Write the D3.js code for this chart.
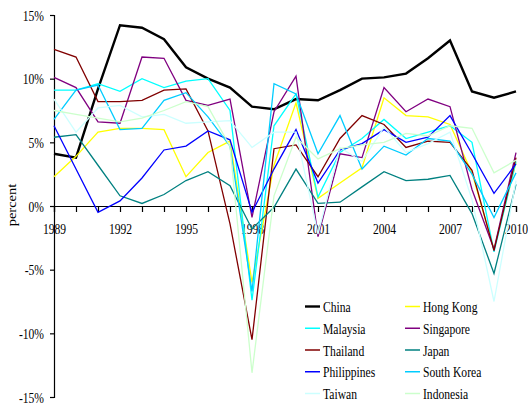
<!DOCTYPE html>
<html>
<head>
<meta charset="utf-8">
<script src="https://cdn.jsdelivr.net/npm/d3@7"></script>
<style>
  html, body { margin: 0; padding: 0; background: #fff; }
  svg { display: block; }
  text { font-family: "Liberation Serif", "Times New Roman", serif; fill: #000; }
</style>
</head>
<body>
<div id="chart"></div>
<script>
const years = d3.range(1989, 2011);
const yTicks = [-15, -10, -5, 0, 5, 10, 15];
const xLabelYears = [1989, 1992, 1995, 1998, 2001, 2004, 2007, 2010];

const seriesNames = ["China", "Hong Kong", "Malaysia", "Singapore", "Thailand",
                     "Japan", "Philippines", "South Korea", "Taiwan", "Indonesia"];
const seriesColors = ["#000000", "#FFFF00", "#00FFFF", "#800080", "#800000",
                      "#008080", "#0000FF", "#00CCFF", "#CCFFFF", "#CCFFCC"];

const china       = [4.1, 3.8, 9.2, 14.2, 14.0, 13.1, 10.9, 10.0, 9.3, 7.8, 7.6, 8.4, 8.3, 9.1, 10.0, 10.1, 10.4, 11.6, 13.0, 9.0, 8.5, 9.0];
const hongKong    = [2.3, 3.9, 5.8, 6.1, 6.1, 6.0, 2.3, 4.2, 5.1, -6.0, 3.2, 8.1, 0.6, 1.8, 3.0, 8.5, 7.1, 7.0, 6.4, 2.6, -3.4, 3.4];
const malaysia    = [9.1, 9.1, 9.6, 9.0, 10.0, 9.3, 9.8, 10.0, 7.5, -7.4, 6.3, 8.8, 0.7, 4.2, 5.3, 6.8, 5.3, 5.8, 6.3, 5.0, -3.6, 3.5];
const singapore   = [10.1, 9.3, 6.6, 6.5, 11.7, 11.6, 8.3, 7.9, 8.4, -0.9, 7.4, 10.2, -2.4, 4.1, 3.8, 9.3, 7.4, 8.4, 7.8, 1.3, -3.4, 4.2];
const thailand    = [12.3, 11.7, 8.2, 8.2, 8.3, 9.1, 9.2, 5.9, -1.4, -10.5, 4.5, 4.8, 2.3, 5.3, 7.1, 6.4, 4.6, 5.1, 5.0, 2.8, -3.5, 3.8];
const japan       = [5.4, 5.6, 3.2, 0.8, 0.2, 0.9, 2.0, 2.7, 1.6, -1.8, -0.1, 2.9, 0.2, 0.3, 1.5, 2.7, 2.0, 2.1, 2.4, -0.6, -5.3, 1.7];
const philippines = [6.3, 2.9, -0.5, 0.4, 2.2, 4.4, 4.7, 5.9, 5.2, -0.5, 2.9, 6.0, 1.8, 4.4, 4.9, 6.0, 5.0, 5.4, 7.1, 4.1, 1.0, 3.3];
const southKorea  = [6.8, 9.1, 9.5, 6.0, 6.1, 8.3, 8.9, 7.0, 4.7, -6.7, 9.6, 8.8, 4.1, 7.1, 2.9, 4.7, 4.0, 5.3, 5.1, 2.5, -0.9, 2.6];
const taiwan      = [8.4, 5.8, 7.7, 7.9, 7.0, 7.2, 6.5, 6.6, 6.7, 4.6, 5.8, 5.8, -2.2, 4.6, 3.5, 6.2, 4.2, 4.9, 5.8, 0.5, -7.5, 2.0];
const indonesia   = [7.5, 7.2, 6.9, 6.6, 6.9, 7.5, 8.2, 7.8, 4.7, -13.1, 0.8, 5.4, 3.7, 4.5, 4.8, 5.0, 5.7, 5.5, 6.3, 6.1, 2.6, 3.6];

const seriesValues = [china, hongKong, malaysia, singapore, thailand,
                      japan, philippines, southKorea, taiwan, indonesia];

const W = 528, H = 407;
const FS = 14.5, SX = 0.8;

const svg = d3.select("#chart").append("svg")
  .attr("width", W).attr("height", H);

const x = d3.scaleLinear().domain([1989, 2010]).range([54, 516]);
const y = d3.scaleLinear().domain([-15, 15]).range([397, 15]);

// Y axis
const yAxis = d3.axisLeft(y).tickValues(yTicks).tickSize(4).tickFormat(d => d + "%");
const gy = svg.append("g").attr("transform", `translate(${x(1989)},0)`).call(yAxis);
gy.select(".domain").attr("stroke", "#000").attr("stroke-width", 1.2);
gy.selectAll(".tick line").attr("stroke", "#000").attr("stroke-width", 1.2);
gy.selectAll(".tick text")
  .attr("x", null).attr("dy", null).attr("y", null)
  .attr("font-size", FS)
  .attr("text-anchor", "end")
  .attr("font-family", "Liberation Serif, Times New Roman, serif")
  .attr("transform", `translate(-10,5) scale(${SX},1)`);

// X axis at 0
const xAxis = d3.axisBottom(x).tickValues(years).tickSize(6)
  .tickFormat(d => xLabelYears.includes(d) ? String(d) : "");
const gx = svg.append("g").attr("transform", `translate(0,${y(0)})`).call(xAxis);
gx.select(".domain").attr("stroke", "#000").attr("stroke-width", 1.2);
gx.selectAll(".tick line").attr("stroke", "#000").attr("stroke-width", 1.2);
gx.selectAll(".tick text")
  .attr("y", null).attr("dy", null)
  .attr("font-size", FS)
  .attr("font-family", "Liberation Serif, Times New Roman, serif")
  .attr("text-anchor", "middle")
  .attr("transform", `translate(0,28) scale(${SX},1)`);

// Y label
svg.append("text")
  .attr("transform", `translate(16,205) scale(${SX},1) rotate(-90)`)
  .attr("text-anchor", "middle")
  .attr("font-size", FS)
  .text("percent");

// Lines
const line = d3.line().x((d, i) => x(years[i])).y(d => y(d));
const gLines = svg.append("g");
seriesValues.forEach((vals, k) => {
  gLines.append("path")
    .datum(vals)
    .attr("fill", "none")
    .attr("stroke", seriesColors[k])
    .attr("stroke-width", k === 0 ? 2.4 : 1.3)
    .attr("stroke-linejoin", "miter")
    .attr("d", line);
});

// Legend (two columns, row-major)
const leg = svg.append("g");
seriesNames.forEach((name, k) => {
  const col = k % 2, row = Math.floor(k / 2);
  const lx = col === 0 ? 305 : 405;
  const cy = 307 + row * 21.75;
  leg.append("line")
    .attr("x1", lx).attr("x2", lx + 15)
    .attr("y1", cy - 0.5).attr("y2", cy - 0.5)
    .attr("stroke", seriesColors[k])
    .attr("stroke-width", k === 0 ? 2.4 : 1.5);
  leg.append("text")
    .attr("transform", `translate(${lx + 18},${cy + 5}) scale(${SX},1)`)
    .attr("font-size", FS)
    .text(name);
});
</script>
</body>
</html>
